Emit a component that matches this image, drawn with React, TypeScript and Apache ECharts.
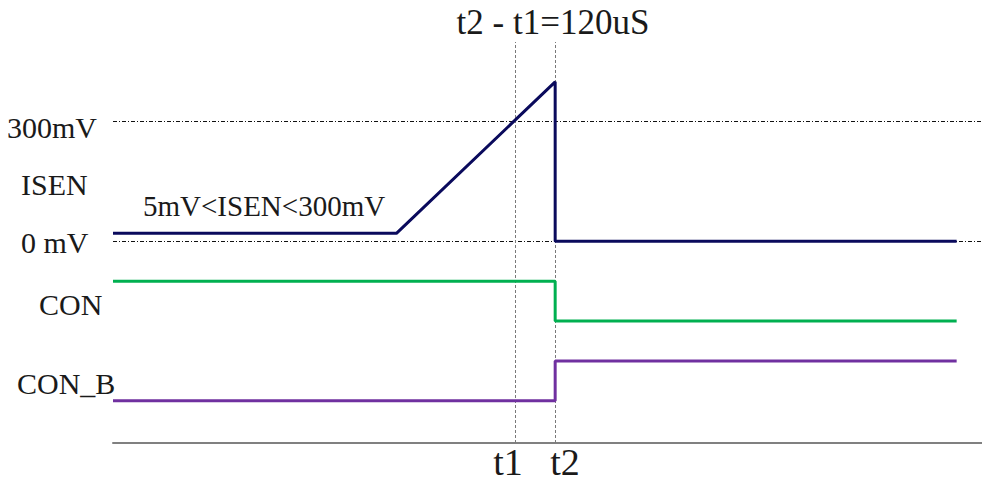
import React, { useEffect, useRef } from "react";
import * as echarts from "echarts";

// time in uS, level in mV-like units
const isenX = [0, 850, 1326, 1326, 2530];
const isenY = [20, 20, 400, 0, 0];
const conX = [0, 1326, 1326, 2530];
const conY = [-100, -100, -200, -200];
const conBX = [0, 1326, 1326, 2530];
const conBY = [-400, -400, -300, -300];
const markTimes = [1206, 1326];
const markTimeLabels = ["t1", "t2"];
const refLevels = [300, 0];

const FONT = "'Liberation Serif', 'DejaVu Serif', serif";
const TXT = "#1a1a1a";

function zip(xs: number[], ys: number[]) {
  return xs.map((x, i) => [x, ys[i]]);
}

export default function App() {
  const ref = useRef<HTMLDivElement>(null);
  useEffect(() => {
    if (!ref.current) return;
    const chart = echarts.init(ref.current, undefined, { renderer: "svg" });
    const textStyle = (size: number) => ({ fontFamily: FONT, fontSize: size, fill: TXT });
    chart.setOption({
      animation: false,
      grid: { left: 113, right: 0, top: 42, bottom: 42 },
      xAxis: {
        type: "value",
        min: 0,
        max: 2630,
        axisLine: { show: true, onZero: false, lineStyle: { color: "#808080", width: 2 } },
        axisTick: { show: false },
        axisLabel: { show: false },
        splitLine: { show: false },
      },
      yAxis: {
        type: "value",
        min: -506,
        max: 500,
        axisLine: { show: false },
        axisTick: { show: false },
        axisLabel: { show: false },
        splitLine: { show: false },
      },
      series: [
        {
          type: "line",
          name: "ISEN",
          data: zip(isenX, isenY),
          symbol: "none",
          lineStyle: { color: "#0a0a5c", width: 3 },
          z: 5,
          markLine: {
            silent: true,
            symbol: "none",
            label: { show: false },
            data: [
              ...refLevels.map((v) => ({
                yAxis: v,
                lineStyle: { color: "#111", width: 1, type: [4, 2, 1, 2] },
              })),
              ...markTimes.map((t) => ({
                xAxis: t,
                lineStyle: { color: "#7a7a7a", width: 1, type: [3, 2] },
              })),
            ],
            z: 2,
          },
        },
        {
          type: "line",
          name: "CON",
          data: zip(conX, conY),
          symbol: "none",
          lineStyle: { color: "#00b050", width: 3 },
          z: 5,
        },
        {
          type: "line",
          name: "CON_B",
          data: zip(conBX, conBY),
          symbol: "none",
          lineStyle: { color: "#7030a0", width: 3 },
          z: 5,
        },
      ],
      graphic: [
        { type: "text", left: 7, top: 112, style: { text: "300mV", ...textStyle(30) } },
        { type: "text", left: 21, top: 169, style: { text: "ISEN", ...textStyle(30) } },
        { type: "text", left: 21, top: 227, style: { text: "0 mV", ...textStyle(30) } },
        { type: "text", left: 39, top: 289, style: { text: "CON", ...textStyle(30) } },
        { type: "text", left: 17, top: 368, style: { text: "CON_B", ...textStyle(30) } },
        { type: "text", left: 143, top: 191, style: { text: "5mV<ISEN<300mV", ...textStyle(29) } },
        {
          type: "text",
          x: 553,
          y: 22,
          style: { text: "t2 - t1=120uS", ...textStyle(35), align: "center", verticalAlign: "middle" },
        },
        {
          type: "text",
          x: 508,
          y: 462,
          style: { text: markTimeLabels[0], ...textStyle(38), align: "center", verticalAlign: "middle" },
        },
        {
          type: "text",
          x: 565,
          y: 462,
          style: { text: markTimeLabels[1], ...textStyle(38), align: "center", verticalAlign: "middle" },
        },
      ],
    });
    return () => chart.dispose();
  }, []);
  return <div ref={ref} style={{ width: 990, height: 485, margin: -8 }} />;
}
